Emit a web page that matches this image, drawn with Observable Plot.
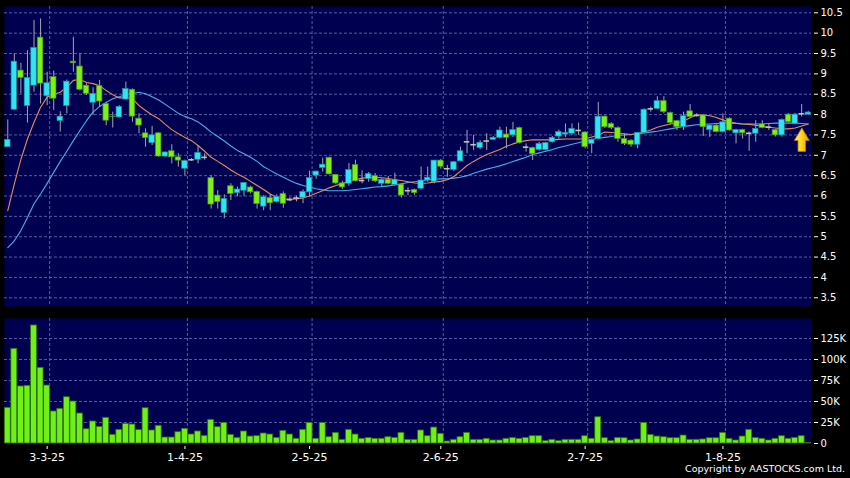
<!DOCTYPE html>
<html><head><meta charset="utf-8">
<script src="https://cdn.jsdelivr.net/npm/d3@7"></script>
<script src="https://cdn.jsdelivr.net/npm/@observablehq/plot@0.6"></script>
<style>
html,body{margin:0;padding:0;background:#000;}
#wrap{position:relative;width:850px;height:478px;background:#000;overflow:hidden;font-family:"DejaVu Sans",sans-serif;}
#wrap svg{display:block;}
#copy{position:absolute;right:5px;top:463px;color:#fff;font-size:9.5px;font-family:"DejaVu Sans",sans-serif;line-height:12px;white-space:nowrap;}
</style></head>
<body><div id="wrap"><div id="copy">Copyright by AASTOCKS.com Ltd.</div></div>
<script>
// ---- data ----
const opens  = [7.20,8.12,9.08,8.21,8.71,9.89,8.45,8.92,7.84,8.21,9.30,9.18,8.71,8.29,8.70,8.26,7.95,7.93,8.37,8.61,7.90,7.54,7.30,7.54,6.97,7.10,6.95,6.67,6.89,6.89,6.95,6.44,6.01,5.58,6.24,6.07,6.13,6.21,6.10,5.74,5.95,5.85,6.05,5.91,5.95,5.95,6.09,6.50,6.69,6.94,6.52,6.31,6.30,6.76,6.38,6.42,6.49,6.30,6.40,6.27,6.28,6.13,6.15,6.18,6.38,6.34,6.87,6.67,6.64,6.85,7.33,7.26,7.18,7.35,7.38,7.43,7.51,7.49,7.67,7.20,7.18,7.13,7.13,7.32,7.46,7.51,7.53,7.61,7.56,7.28,7.40,7.95,7.77,7.67,7.40,7.36,7.26,7.55,8.14,8.14,8.33,8.04,7.84,7.69,8.08,7.98,7.98,7.62,7.73,7.57,7.90,7.54,7.62,7.54,7.53,7.76,7.69,7.62,7.49,8.00,7.77,8.02,8.00];
const highs  = [7.87,9.49,9.26,9.57,10.31,10.35,9.04,9.07,8.07,8.85,9.90,9.49,8.76,8.66,8.84,8.30,8.06,8.22,8.80,8.63,8.02,7.65,7.71,7.55,7.08,7.26,7.04,6.88,6.92,7.24,7.04,6.50,6.13,6.03,6.30,6.22,6.33,6.24,6.12,6.01,6.04,6.03,6.10,5.96,6.00,6.15,6.61,6.61,6.93,6.95,6.53,6.36,6.80,6.88,6.62,6.58,6.55,6.42,6.48,6.56,6.30,6.20,6.17,6.71,6.71,6.87,6.90,6.75,6.85,7.20,7.61,7.49,7.36,7.53,7.46,7.69,7.69,7.81,7.69,7.28,7.20,7.32,7.32,7.46,7.62,7.77,7.77,7.79,7.58,7.40,8.30,7.97,7.80,7.70,7.52,7.38,7.56,8.14,8.18,8.44,8.44,8.06,7.86,8.06,8.25,8.02,8.00,7.75,7.75,8.02,7.92,7.64,7.64,7.57,7.85,7.85,7.77,7.64,7.89,8.02,8.03,8.25,8.08];
const lows   = [7.20,8.10,8.51,7.79,8.55,8.26,8.22,8.10,7.57,8.02,9.04,8.58,8.47,7.98,8.18,7.73,7.67,7.92,8.35,7.81,7.53,7.20,7.24,6.95,6.95,6.79,6.71,6.50,6.85,6.79,6.88,5.68,5.68,5.44,5.89,5.98,5.99,6.05,5.68,5.64,5.64,5.83,5.70,5.86,5.86,5.81,5.98,6.41,6.59,6.52,6.28,6.16,6.24,6.35,6.30,6.34,6.33,6.22,6.28,6.25,5.95,6.01,6.02,6.15,6.34,6.30,6.66,6.46,6.60,6.84,7.04,7.12,7.14,7.12,7.36,7.40,7.16,7.44,7.28,7.08,6.87,7.10,7.10,7.30,7.40,7.44,7.49,7.49,7.16,7.04,7.38,7.66,7.63,7.32,7.24,7.20,7.16,7.53,8.06,8.12,8.02,7.76,7.61,7.61,7.92,7.94,7.46,7.44,7.55,7.55,7.59,7.28,7.40,7.10,7.32,7.65,7.61,7.45,7.45,7.79,7.75,7.94,7.98];
const closes = [7.38,9.30,8.90,8.90,9.64,8.76,8.77,8.39,7.95,8.81,9.26,8.61,8.51,8.51,8.32,7.85,7.94,8.19,8.63,7.95,7.73,7.42,7.49,6.97,7.07,6.95,6.87,6.86,6.89,7.06,6.95,5.79,5.85,5.93,6.05,6.16,6.32,6.09,5.80,5.97,5.82,5.98,5.81,5.91,5.95,6.10,6.44,6.60,6.77,6.53,6.31,6.21,6.64,6.36,6.38,6.54,6.36,6.40,6.30,6.40,6.01,6.13,6.07,6.38,6.45,6.87,6.72,6.67,6.83,7.10,7.33,7.26,7.31,7.35,7.43,7.61,7.43,7.62,7.30,7.20,7.03,7.28,7.30,7.43,7.57,7.55,7.65,7.61,7.20,7.38,7.95,7.69,7.67,7.40,7.28,7.26,7.55,8.12,8.14,8.33,8.06,7.79,7.69,7.96,7.94,7.98,7.69,7.73,7.57,7.81,7.61,7.62,7.54,7.54,7.65,7.67,7.69,7.49,7.87,7.81,8.00,8.02,8.05];
const volumes = [42500,112700,67900,68700,140500,90100,69000,38100,41300,55100,50000,35700,17000,26200,19800,30600,10300,16300,23400,22600,15900,42000,15500,21100,7100,7100,13500,17500,10700,14300,9100,28200,19400,24600,10300,6700,14300,8300,8700,11900,10700,6700,15100,10700,5600,16300,24600,5600,24600,7500,12700,4400,16300,10700,5600,6700,5600,5600,7500,6700,12700,4400,4400,15500,8700,19000,11500,2400,4400,7500,12700,4400,4400,5600,3600,3600,5600,6700,5600,6700,8700,8700,2800,4400,2800,4400,4400,4400,8700,5600,31300,6300,2800,6700,6300,3600,4800,24600,10300,8300,7500,6300,6300,9500,4400,4400,4800,6300,6300,12700,5600,3600,8300,16300,6700,5600,3600,5600,8700,5600,6700,8700,800];
const maFast = [5.64,6.30,6.90,7.40,7.81,8.18,8.43,8.49,8.55,8.67,8.84,8.86,8.79,8.76,8.71,8.59,8.49,8.41,8.41,8.39,8.22,8.10,7.99,7.90,7.76,7.63,7.53,7.44,7.36,7.24,7.10,6.95,6.85,6.75,6.64,6.54,6.46,6.36,6.26,6.16,6.05,5.97,5.93,5.92,5.93,5.95,6.00,6.07,6.13,6.20,6.26,6.31,6.36,6.40,6.44,6.45,6.46,6.45,6.43,6.40,6.38,6.35,6.32,6.31,6.32,6.34,6.36,6.40,6.48,6.61,6.75,6.85,6.94,7.02,7.08,7.14,7.22,7.28,7.33,7.36,7.38,7.38,7.38,7.38,7.39,7.40,7.40,7.40,7.40,7.45,7.49,7.57,7.56,7.54,7.53,7.51,7.53,7.57,7.62,7.69,7.73,7.77,7.79,7.84,7.92,7.99,7.99,7.97,7.93,7.87,7.82,7.79,7.77,7.76,7.74,7.71,7.69,7.67,7.65,7.65,7.67,7.72,7.77];
const maSlow = [4.73,4.90,5.15,5.47,5.81,6.05,6.31,6.58,6.85,7.10,7.36,7.61,7.85,8.06,8.20,8.30,8.39,8.44,8.49,8.52,8.55,8.51,8.44,8.36,8.25,8.14,8.03,7.95,7.90,7.82,7.70,7.57,7.46,7.35,7.23,7.12,7.04,6.95,6.85,6.72,6.63,6.54,6.46,6.38,6.31,6.26,6.22,6.18,6.15,6.13,6.13,6.13,6.14,6.16,6.18,6.20,6.22,6.23,6.25,6.27,6.30,6.33,6.35,6.37,6.40,6.41,6.42,6.42,6.44,6.46,6.50,6.56,6.61,6.66,6.70,6.74,6.79,6.85,6.90,6.95,7.02,7.06,7.10,7.14,7.19,7.23,7.27,7.31,7.35,7.39,7.42,7.44,7.46,7.49,7.50,7.51,7.53,7.55,7.57,7.59,7.62,7.65,7.68,7.71,7.73,7.75,7.76,7.77,7.78,7.79,7.79,7.78,7.77,7.77,7.77,7.77,7.78,7.79,7.79,7.79,7.79,7.78,7.77];
const tickIndex  = [6, 27, 46, 66, 88, 109];
const tickLabels = ["3-3-25", "1-4-25", "2-5-25", "2-6-25", "2-7-25", "1-8-25"];
const priceTicks = [3.5,4,4.5,5,5.5,6,6.5,7,7.5,8,8.5,9,9.5,10,10.5];
const volTicks   = [0,25000,50000,75000,100000,125000];
const arrowMark  = {index: 121.1, price: 7.66};

// ---- styling ----
const navy = "#000050";
const grid = "#5a5a9e";
const cyan = "#30e4f2";
const lime = "#7cf01c";
const xDomain = [-0.5, opens.length - 0.5];

const candles = opens.map((o, i) => ({i, o, h: highs[i], l: lows[i], c: closes[i]}));
const bodies = candles.filter(d => d.o !== d.c);
const dojis = candles.filter(d => d.o === d.c);
const fastPts = maFast.map((v, i) => ({i, v}));
const slowPts = maSlow.map((v, i) => ({i, v}));
const volPts = volumes.map((v, i) => ({i, v}));

const arrow = (index, scales) => {
  const cx = scales.x(arrowMark.index), ty = scales.y(arrowMark.price);
  const ns = "http://www.w3.org/2000/svg";
  const g = document.createElementNS(ns, "g");
  const defs = document.createElementNS(ns, "defs");
  defs.innerHTML = '<linearGradient id="arrg" x1="0" x2="1" y1="0" y2="0"><stop offset="0" stop-color="#fff27a"/><stop offset="0.5" stop-color="#ffd21a"/><stop offset="1" stop-color="#e89a00"/></linearGradient>';
  g.appendChild(defs);
  const p = document.createElementNS(ns, "path");
  const d = [[0,0],[7.5,12.5],[3.8,12.5],[3.8,23.5],[-3.8,23.5],[-3.8,12.5],[-7.5,12.5]]
    .map(([dx, dy], k) => (k ? "L" : "M") + (cx + dx) + "," + (ty + dy)).join("") + "Z";
  p.setAttribute("d", d);
  p.setAttribute("fill", "url(#arrg)");
  p.setAttribute("stroke", "#b07800");
  p.setAttribute("stroke-width", "0.8");
  g.appendChild(p);
  return g;
};

const baseStyle = {background: "transparent", color: "#fff", fontFamily: "DejaVu Sans, sans-serif", fontSize: "10px"};

const topChart = Plot.plot({
  width: 850, height: 312,
  marginTop: 6, marginBottom: 6, marginLeft: 4, marginRight: 39,
  style: baseStyle,
  x: {domain: xDomain, axis: null},
  y: {domain: [3.286, 10.655], axis: null},
  marks: [
    Plot.frame({fill: navy, stroke: null}),
    Plot.ruleY(priceTicks, {stroke: grid, strokeDasharray: "3,2"}),
    Plot.ruleX(tickIndex, {stroke: grid, strokeDasharray: "3,2", dx: 2.5}),
    Plot.axisY(priceTicks, {anchor: "right", label: null, tickSize: 4, tickPadding: 3, dx: 2, color: "#fff", tickFormat: d => String(d)}),
    Plot.line(slowPts, {x: "i", y: "v", stroke: "#46aef0", strokeWidth: 1.1}),
    Plot.line(fastPts, {x: "i", y: "v", stroke: "#e88a5c", strokeWidth: 1.1}),
    Plot.ruleX(candles, {x: "i", y1: "l", y2: "h", stroke: "#a6a6a6", strokeWidth: 1}),
    Plot.rect(bodies, {x1: d => d.i - 0.42, x2: d => d.i + 0.42, y1: "o", y2: "c",
      fill: d => d.c > d.o ? cyan : lime, stroke: d => d.c > d.o ? "#1a8f9c" : "#4a9212", strokeWidth: 0.7}),
    Plot.ruleY(dojis, {x1: d => d.i - 0.42, x2: d => d.i + 0.42, y: "o", stroke: "#c4c4b0", strokeWidth: 1.6}),
    arrow
  ]
});

const bottomChart = Plot.plot({
  width: 850, height: 166,
  marginTop: 6, marginBottom: 35, marginLeft: 4, marginRight: 39,
  style: baseStyle,
  x: {domain: xDomain, axis: null},
  y: {domain: [0, 148800], axis: null},
  marks: [
    Plot.frame({fill: navy, stroke: null}),
    Plot.ruleY(volTicks.filter(d => d > 0), {stroke: grid, strokeDasharray: "3,2"}),
    Plot.ruleX(tickIndex, {stroke: grid, strokeDasharray: "3,2", dx: 2.5}),
    Plot.rectY(volPts, {x1: d => d.i - 0.5, x2: d => d.i + 0.5, y1: 0, y2: "v",
      fill: "#70f01a", stroke: "#2f7000", strokeWidth: 0.8, insetLeft: 0.3, insetRight: 0.3}),
    Plot.axisY(volTicks, {anchor: "right", label: null, tickSize: 4, tickPadding: 3, dx: 2, color: "#fff",
      tickFormat: d => d === 0 ? "0" : (d / 1000) + "K"}),
    Plot.axisX(tickIndex, {anchor: "bottom", label: null, tickSize: 3, tickPadding: 4, dy: 3, color: "#fff", fontSize: 11,
      tickFormat: d => tickLabels[tickIndex.indexOf(d)]})
  ]
});

const wrap = document.getElementById("wrap");
wrap.insertBefore(bottomChart, wrap.firstChild);
wrap.insertBefore(topChart, wrap.firstChild);
</script>
</body></html>
